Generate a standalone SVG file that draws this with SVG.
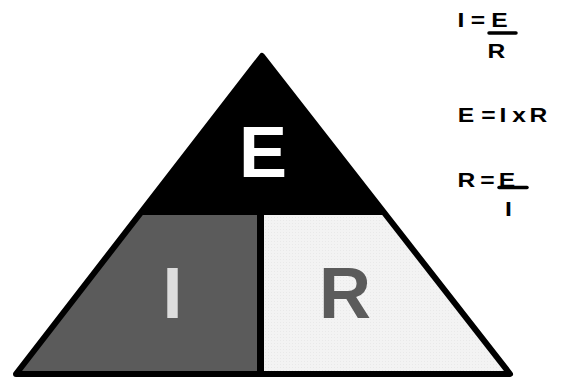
<svg xmlns="http://www.w3.org/2000/svg" width="563" height="378" viewBox="0 0 563 378">
  <style>
    .big { font-family: "Liberation Sans", Arial, sans-serif; font-weight: bold; font-size: 72px; text-anchor: middle; }
    .f { font-family: "Liberation Sans", Arial, sans-serif; font-weight: bold; font-size: 20.5px; fill: #000; text-anchor: middle; }
    .bar { stroke: #000; stroke-width: 3.5; stroke-linecap: round; }
  </style>
  <defs>
    <pattern id="dots" width="3" height="3" patternUnits="userSpaceOnUse">
      <rect width="3" height="3" fill="#f3f3f3"/>
      <rect x="1" y="1" width="1" height="1" fill="#e9e9e9"/>
    </pattern>
  </defs>
  <rect width="563" height="378" fill="#ffffff"/>

  <g id="node-E">
    <polygon points="262,56 138,215 386,215" fill="#000"/>
    <text class="big" x="263" y="177" fill="#ffffff">E</text>
  </g>
  <g id="node-I">
    <polygon points="138,215 260.5,215 260.5,374 16,374" fill="#5b5b5b"/>
    <text class="big" x="172.5" y="318" fill="#dddddd">I</text>
  </g>
  <g id="node-R">
    <polygon points="260.5,215 386,215 510,374 260.5,374" fill="url(#dots)"/>
    <text class="big" x="345" y="318" fill="#5b5b5b">R</text>
  </g>

  <g id="connectors">
    <polygon points="262,56 510,374 16,374" fill="none" stroke="#000" stroke-width="6" stroke-linejoin="round"/>
    <rect x="257" y="213" width="7" height="161" fill="#000"/>
  </g>

  <g id="formula-I">
    <text class="f" transform="translate(459,27) scale(1.2,1)"><tspan x="1.67">I</tspan><tspan x="15.8">=</tspan><tspan x="33.75">E</tspan></text>
    <line class="bar" x1="489" y1="33" x2="516" y2="33"/>
    <text class="f" transform="translate(496.5,58) scale(1.2,1)" x="0">R</text>
  </g>
  <g id="formula-E">
    <text class="f" transform="translate(459,122) scale(1.2,1)"><tspan x="5.83">E</tspan><tspan x="24.6">=</tspan><tspan x="36.7">I</tspan><tspan x="50">x</tspan><tspan x="66.25">R</tspan></text>
  </g>
  <g id="formula-R">
    <text class="f" transform="translate(459,187) scale(1.2,1)"><tspan x="6.25">R</tspan><tspan x="23.75">=</tspan><tspan x="40">E</tspan></text>
    <line class="bar" x1="499" y1="187.5" x2="527" y2="187.5"/>
    <text class="f" transform="translate(508.5,216) scale(1.2,1)" x="0">I</text>
  </g>
</svg>
